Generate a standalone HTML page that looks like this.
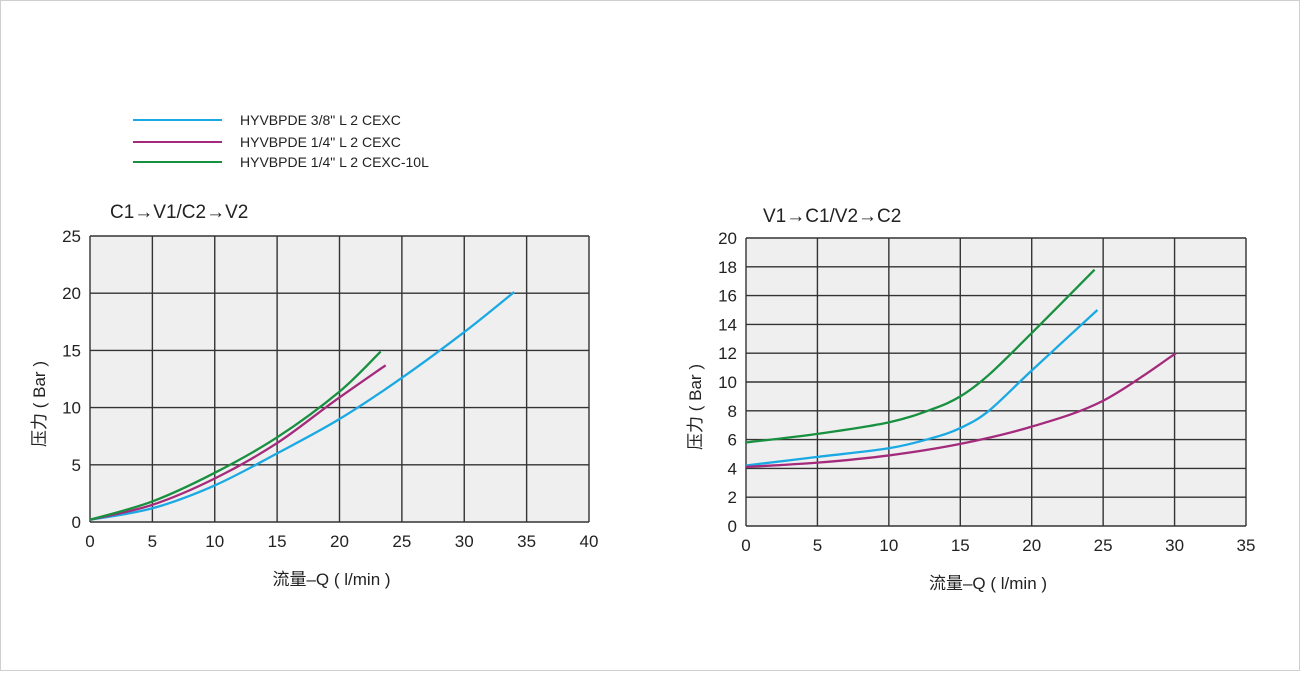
<!DOCTYPE html>
<html><head><meta charset="utf-8"><style>
html,body{margin:0;padding:0;background:#fff;}
body{width:1300px;height:671px;overflow:hidden;font-family:"Liberation Sans","Noto Sans CJK SC",sans-serif;}
svg text{font-family:"Liberation Sans","Noto Sans CJK SC",sans-serif;fill:#222;}
</style></head><body>
<svg id="chart" width="1300" height="671" viewBox="0 0 1300 671" xmlns="http://www.w3.org/2000/svg">
<rect x="0.5" y="0.5" width="1299" height="670" fill="#fff" stroke="#cfcfcf"/>
<g>
<g><line x1="133" y1="120" x2="222" y2="120" stroke="#1aa9e3" stroke-width="2"/><text x="240" y="125" font-size="14">HYVBPDE 3/8" L 2 CEXC</text></g>
<g><line x1="133" y1="142" x2="222" y2="142" stroke="#a42a7c" stroke-width="2"/><text x="240" y="147" font-size="14">HYVBPDE 1/4" L 2 CEXC</text></g>
<g><line x1="133" y1="162" x2="222" y2="162" stroke="#17903f" stroke-width="2"/><text x="240" y="167" font-size="14">HYVBPDE 1/4" L 2 CEXC-10L</text></g>
</g>
<g id="left"></g>
<g id="right"></g>
</svg>
<script>
const NS="http://www.w3.org/2000/svg";
// Left chart data
const leftXTicks=[0,5,10,15,20,25,30,35,40];
const leftYTicks=[0,5,10,15,20,25];
const leftBlueX=[0,5,10,15,20,25,30,34];
const leftBlueY=[0.2,1.2,3.2,6,9,12.6,16.6,20.1];
const leftMagX=[0,5,10,15,19.5,23.7];
const leftMagY=[0.2,1.5,3.8,6.9,10.5,13.7];
const leftGreenX=[0,5,10,15,20,23.3];
const leftGreenY=[0.2,1.8,4.3,7.4,11.4,14.9];
// Right chart data
const rightXTicks=[0,5,10,15,20,25,30,35];
const rightYTicks=[0,2,4,6,8,10,12,14,16,18,20];
const rightGreenX=[0,5,10,13,15,17,20,24.4];
const rightGreenY=[5.8,6.4,7.2,8.1,9,10.5,13.4,17.8];
const rightBlueX=[0,5,10,13,15,17,20,24.6];
const rightBlueY=[4.2,4.8,5.4,6.1,6.8,8,10.8,15];
const rightMagX=[0,5,10,15,20,25,30.1];
const rightMagY=[4.1,4.4,4.9,5.7,6.9,8.7,12];

function mk(tag,attrs,parent){const e=document.createElementNS(NS,tag);for(const k in attrs)e.setAttribute(k,attrs[k]);parent.appendChild(e);return e;}
function smooth(pts){let d="M"+pts[0][0]+","+pts[0][1];for(let i=0;i<pts.length-1;i++){const p0=pts[Math.max(i-1,0)],p1=pts[i],p2=pts[i+1],p3=pts[Math.min(i+2,pts.length-1)];const c1x=p1[0]+(p2[0]-p0[0])/6,c1y=p1[1]+(p2[1]-p0[1])/6,c2x=p2[0]-(p3[0]-p1[0])/6,c2y=p2[1]-(p3[1]-p1[1])/6;d+=" C"+c1x+","+c1y+" "+c2x+","+c2y+" "+p2[0]+","+p2[1];}return d;}
function chart(g,box,xt,yt,title,series){
  const xs=v=>box.x0+(v-xt[0])/(xt[xt.length-1]-xt[0])*(box.x1-box.x0);
  const ys=v=>box.y1-(v-yt[0])/(yt[yt.length-1]-yt[0])*(box.y1-box.y0);
  const bg=mk('rect',{x:box.x0,y:box.y0,width:box.x1-box.x0,height:box.y1-box.y0,fill:'#efefef'},g);
  
  
  xt.forEach(t=>{const l=mk('line',{x1:xs(t),x2:xs(t),y1:box.y0,y2:box.y1,stroke:'#333','stroke-width':1.4},g);
    
    
    const tx=mk('text',{x:xs(t),y:box.y1+25,'font-size':17,'text-anchor':'middle'},g);tx.textContent=t;
    
    });
  yt.forEach(t=>{const l=mk('line',{x1:box.x0,x2:box.x1,y1:ys(t),y2:ys(t),stroke:'#333','stroke-width':1.4},g);
    
    
    const tx=mk('text',{x:box.x0-9,y:ys(t)+6,'font-size':17,'text-anchor':'end'},g);tx.textContent=t;
    
    });
  const ti=mk('text',{x:box.tx,y:box.ty,'font-size':19},g);ti.textContent=title;
  
  
  const xl=mk('text',{x:(box.x0+box.x1)/2-8,y:box.y1+63,'font-size':17,'text-anchor':'middle'},g);xl.textContent="流量–Q ( l/min )";
  
  
  const cy=(box.y0+box.y1)/2+25;
  const yl=mk('text',{x:0,y:0,'font-size':17,'text-anchor':'middle',transform:`translate(${box.x0-45},${cy}) rotate(-90)`},g);yl.textContent="压力 ( Bar )";
  
  
  series.forEach(s=>{const pts=s.x.map((v,i)=>[xs(v),ys(s.y[i])]);
    const p=mk('path',{d:smooth(pts),fill:'none',stroke:s.c,'stroke-width':2.3},g);
    
    });
}
chart(document.getElementById('left'),{x0:90,x1:589,y0:236,y1:522,tx:110,ty:218},leftXTicks,leftYTicks,"C1→V1/C2→V2",
 [{x:leftBlueX,y:leftBlueY,c:'#1aa9e3',n:'line-38'},{x:leftMagX,y:leftMagY,c:'#a42a7c',n:'line-14'},{x:leftGreenX,y:leftGreenY,c:'#17903f',n:'line-14-10l'}]);
chart(document.getElementById('right'),{x0:746,x1:1246,y0:238,y1:526,tx:763,ty:222},rightXTicks,rightYTicks,"V1→C1/V2→C2",
 [{x:rightGreenX,y:rightGreenY,c:'#17903f',n:'line-14-10l'},{x:rightBlueX,y:rightBlueY,c:'#1aa9e3',n:'line-38'},{x:rightMagX,y:rightMagY,c:'#a42a7c',n:'line-14'}]);
</script>
</body></html>
